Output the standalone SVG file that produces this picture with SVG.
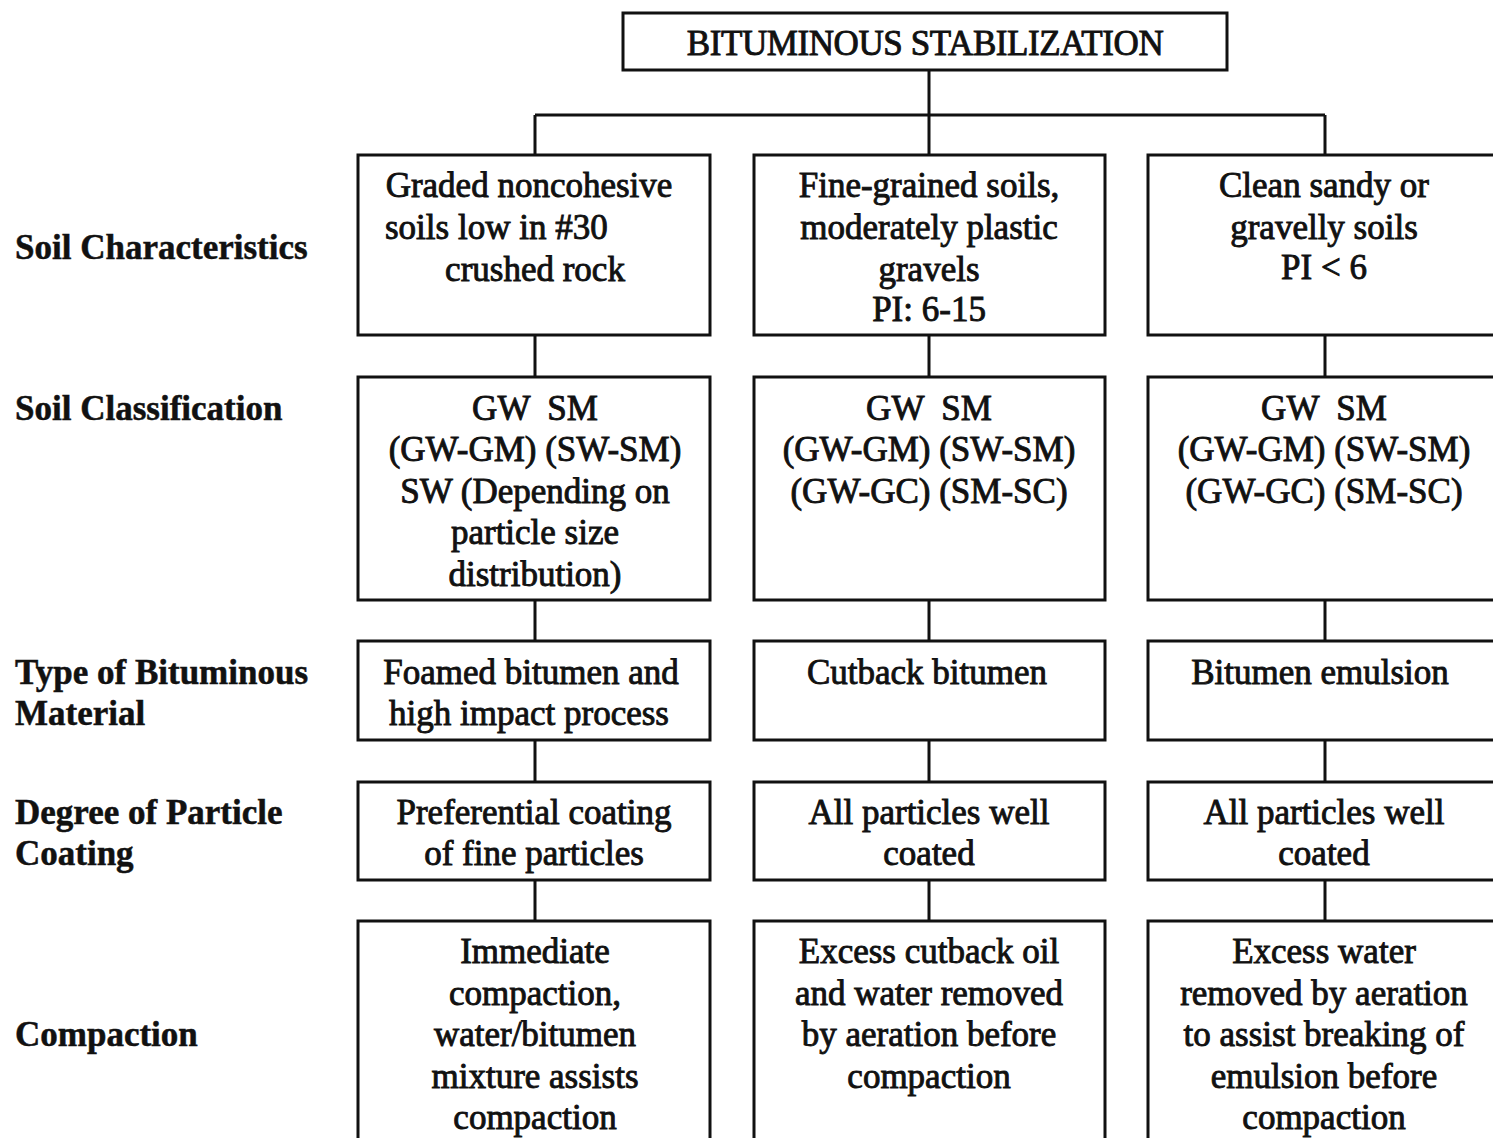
<svg xmlns="http://www.w3.org/2000/svg" width="1493" height="1138" viewBox="0 0 1493 1138">
<style>
.box{fill:#fff;stroke:#111;stroke-width:3}
.t{font-family:"Liberation Serif","Times New Roman",serif;font-size:35px;fill:#111;stroke:#111;stroke-width:0.9;text-anchor:middle;white-space:pre}
.title{font-size:35px;letter-spacing:-0.4px}
.lab{font-family:"Liberation Serif","Times New Roman",serif;font-size:35px;font-weight:bold;fill:#111;stroke:#111;stroke-width:0.5;text-anchor:start}
.c{stroke:#111;stroke-width:3;fill:none}
</style>
<rect width="1493" height="1138" fill="#fff"/>
<g id="connectors">
<path class="c" d="M929 70V155M535 115H1325M535 115V155M1325 115V155"/>
<path class="c" d="M535 335V377M929 335V377M1325 335V377"/>
<path class="c" d="M535 600V641M929 600V641M1325 600V641"/>
<path class="c" d="M535 740V782M929 740V782M1325 740V782"/>
<path class="c" d="M535 880V921M929 880V921M1325 880V921"/>
</g>
<g id="labels">
<text class="lab" x="15" y="259">Soil Characteristics</text>
<text class="lab" x="15" y="420">Soil Classification</text>
<text class="lab" x="15" y="684">Type of Bituminous</text>
<text class="lab" x="15" y="725">Material</text>
<text class="lab" x="15" y="824">Degree of Particle</text>
<text class="lab" x="15" y="865">Coating</text>
<text class="lab" x="15" y="1046">Compaction</text>
</g>
<g id="title"><rect class="box" x="623" y="13" width="604" height="57"/><text class="t title" x="925" y="55">BITUMINOUS STABILIZATION</text></g>
<g id="char-1"><rect class="box" x="358" y="155" width="352" height="180"/>
<text class="t" x="529" y="197">Graded noncohesive</text>
<text class="t" x="385" y="239" style="text-anchor:start">soils low in #30</text>
<text class="t" x="535" y="281">crushed rock</text></g>
<g id="char-2"><rect class="box" x="754" y="155" width="351" height="180"/>
<text class="t" x="929" y="197">Fine-grained soils,</text>
<text class="t" x="929" y="239">moderately plastic</text>
<text class="t" x="929" y="281">gravels</text>
<text class="t" x="929" y="321">PI: 6-15</text></g>
<g id="char-3"><rect class="box" x="1148" y="155" width="360" height="180"/>
<text class="t" x="1324" y="197">Clean sandy or</text>
<text class="t" x="1324" y="239">gravelly soils</text>
<text class="t" x="1324" y="279">PI &lt; 6</text></g>
<g id="class-1"><rect class="box" x="358" y="377" width="352" height="223"/>
<text class="t" x="535" y="420">GW  SM</text>
<text class="t" x="535" y="461">(GW-GM) (SW-SM)</text>
<text class="t" x="535" y="503">SW (Depending on</text>
<text class="t" x="535" y="544">particle size</text>
<text class="t" x="535" y="586">distribution)</text></g>
<g id="class-2"><rect class="box" x="754" y="377" width="351" height="223"/>
<text class="t" x="929" y="420">GW  SM</text>
<text class="t" x="929" y="461">(GW-GM) (SW-SM)</text>
<text class="t" x="929" y="503">(GW-GC) (SM-SC)</text></g>
<g id="class-3"><rect class="box" x="1148" y="377" width="360" height="223"/>
<text class="t" x="1324" y="420">GW  SM</text>
<text class="t" x="1324" y="461">(GW-GM) (SW-SM)</text>
<text class="t" x="1324" y="503">(GW-GC) (SM-SC)</text></g>
<g id="type-1"><rect class="box" x="358" y="641" width="352" height="99"/>
<text class="t" x="531" y="684">Foamed bitumen and</text>
<text class="t" x="529" y="725">high impact process</text></g>
<g id="type-2"><rect class="box" x="754" y="641" width="351" height="99"/>
<text class="t" x="927" y="684">Cutback bitumen</text></g>
<g id="type-3"><rect class="box" x="1148" y="641" width="360" height="99"/>
<text class="t" x="1320" y="684">Bitumen emulsion</text></g>
<g id="coat-1"><rect class="box" x="358" y="782" width="352" height="98"/>
<text class="t" x="534" y="824">Preferential coating</text>
<text class="t" x="534" y="865">of fine particles</text></g>
<g id="coat-2"><rect class="box" x="754" y="782" width="351" height="98"/>
<text class="t" x="929" y="824">All particles well</text>
<text class="t" x="929" y="865">coated</text></g>
<g id="coat-3"><rect class="box" x="1148" y="782" width="360" height="98"/>
<text class="t" x="1324" y="824">All particles well</text>
<text class="t" x="1324" y="865">coated</text></g>
<g id="comp-1"><rect class="box" x="358" y="921" width="352" height="240"/>
<text class="t" x="535" y="963">Immediate</text>
<text class="t" x="535" y="1005">compaction,</text>
<text class="t" x="535" y="1046">water/bitumen</text>
<text class="t" x="535" y="1088">mixture assists</text>
<text class="t" x="535" y="1129">compaction</text></g>
<g id="comp-2"><rect class="box" x="754" y="921" width="351" height="240"/>
<text class="t" x="929" y="963">Excess cutback oil</text>
<text class="t" x="929" y="1005">and water removed</text>
<text class="t" x="929" y="1046">by aeration before</text>
<text class="t" x="929" y="1088">compaction</text></g>
<g id="comp-3"><rect class="box" x="1148" y="921" width="360" height="240"/>
<text class="t" x="1324" y="963">Excess water</text>
<text class="t" x="1324" y="1005">removed by aeration</text>
<text class="t" x="1324" y="1046">to assist breaking of</text>
<text class="t" x="1324" y="1088">emulsion before</text>
<text class="t" x="1324" y="1129">compaction</text></g>
</svg>
